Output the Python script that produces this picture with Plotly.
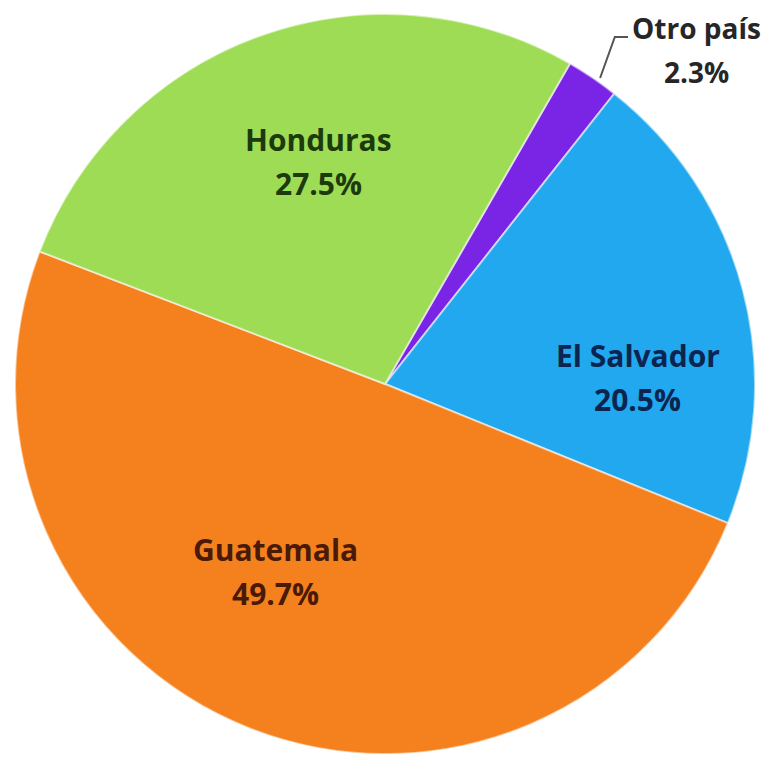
import plotly.graph_objects as go

labels = ["Otro país", "El Salvador", "Guatemala", "Honduras"]
values = [2.3, 20.5, 49.7, 27.5]
colors = ["#7a24e6", "#21a8ee", "#f5801e", "#9edc55"]
text_colors = ["#262626", "#0b2450", "#4a1a06", "#1c3a0c"]

# label anchor positions (paper coords) and font sizes
label_pos = [(0.8885, 0.9445), (0.8129, 0.5125), (0.3458, 0.2550), (0.4000, 0.7966)]
label_size = [28, 30, 30, 30]

fig = go.Figure()
fig.add_trace(go.Pie(
    labels=labels,
    values=values,
    sort=False,
    direction="clockwise",
    rotation=30,
    marker=dict(colors=colors, line=dict(color="rgba(255,255,255,0.55)", width=2)),
    textinfo="none",
    hoverinfo="label+percent",
    showlegend=False,
    domain=dict(x=[0.009, 0.964], y=[0.0145, 0.992]),
))

font_family = "Open Sans"
for lab, val, tc, (px, py), fs in zip(labels, values, text_colors, label_pos, label_size):
    for txt, shift in ((lab, 22), (f"{val:.1f}%", -22)):
        fig.add_annotation(
            x=px, y=py, xref="paper", yref="paper",
            xanchor="center", yanchor="middle",
            yshift=shift,
            text=f"<b>{txt}</b>",
            showarrow=False,
            font=dict(family=font_family, size=fs, color=tc),
            align="center",
        )

# leader line for small slice
fig.add_shape(type="path", xref="paper", yref="paper",
              path="M 0.764 0.9075 L 0.783 0.9617 L 0.800 0.9617",
              line=dict(color="#555555", width=2))

fig.update_layout(
    width=775, height=757,
    margin=dict(l=0, r=0, t=0, b=0),
    paper_bgcolor="white",
    plot_bgcolor="white",
)

fig.write_html("out.html")
